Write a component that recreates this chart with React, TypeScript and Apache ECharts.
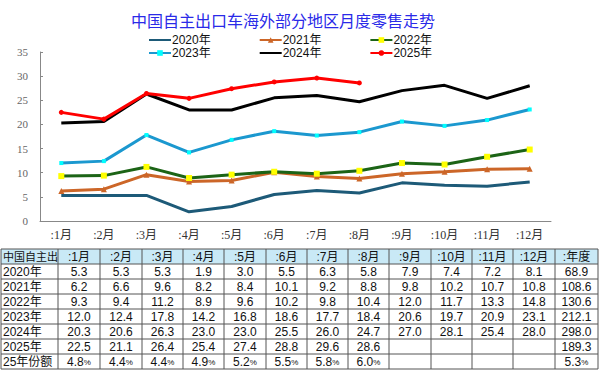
import React, { useEffect, useRef } from "react";
import * as echarts from "echarts";

const months = [":1月", ":2月", ":3月", ":4月", ":5月", ":6月", ":7月", ":8月", ":9月", ":10月", ":11月", ":12月"];
const seriesNames = ["2020年", "2021年", "2022年", "2023年", "2024年", "2025年"];
const v2020 = [5.3, 5.3, 5.3, 1.9, 3.0, 5.5, 6.3, 5.8, 7.9, 7.4, 7.2, 8.1];
const v2021 = [6.2, 6.6, 9.6, 8.2, 8.4, 10.1, 9.2, 8.8, 9.8, 10.2, 10.7, 10.8];
const v2022 = [9.3, 9.4, 11.2, 8.9, 9.6, 10.2, 9.8, 10.4, 12.0, 11.7, 13.3, 14.8];
const v2023 = [12.0, 12.4, 17.8, 14.2, 16.8, 18.6, 17.7, 18.4, 20.6, 19.7, 20.9, 23.1];
const v2024 = [20.3, 20.6, 26.3, 23.0, 23.0, 25.5, 26.0, 24.7, 27.0, 28.1, 25.4, 28.0];
const v2025 = [22.5, 21.1, 26.4, 25.4, 27.4, 28.8, 29.6, 28.6];
const annual = [68.9, 108.6, 130.6, 212.1, 298.0, 189.3];
const share25 = [4.8, 4.4, 4.4, 4.9, 5.2, 5.5, 5.8, 6.0];
const shareAnnual = 5.3;
const tableHeaderFirst = "中国自主出";
const annualHeader = ":年度";
const shareLabel = "25年份额";
const yTicks = { min: 0, max: 35, interval: 5 };

const allValues = [v2020, v2021, v2022, v2023, v2024, v2025];

export default function App() {
  const ref = useRef<HTMLDivElement>(null);
  useEffect(() => {
    if (!ref.current) return;
    const chart = echarts.init(ref.current, null, { renderer: "svg" });

    const colX = [1, 58, 100, 142, 183, 224, 266, 307, 348, 389, 431, 472, 513, 555, 598];
    const rowTop = 249;
    const rowH = 15;
    const nRows = 8;
    const font = "Liberation Sans, Arial, Noto Sans CJK SC, sans-serif";
    const g: any[] = [];
    g.push({
      type: "rect",
      shape: { x: colX[0], y: rowTop, width: colX[colX.length - 1] - colX[0], height: rowH },
      style: { fill: "#c9e9f6" },
    });
    for (let r = 0; r <= nRows; r++) {
      g.push({
        type: "line",
        shape: { x1: colX[0], y1: rowTop + r * rowH, x2: colX[colX.length - 1], y2: rowTop + r * rowH },
        style: { stroke: "#555", lineWidth: 1 },
      });
    }
    for (let c = 0; c < colX.length; c++) {
      g.push({
        type: "line",
        shape: { x1: colX[c], y1: rowTop, x2: colX[c], y2: rowTop + nRows * rowH },
        style: { stroke: "#555", lineWidth: 1 },
      });
    }
    const cellText = (r: number, c: number, text: string, opts: any = {}) => {
      const left = c === 0;
      g.push({
        type: "text",
        x: left ? colX[0] + 2 : (colX[c] + colX[c + 1]) / 2,
        y: rowTop + r * rowH + rowH / 2 + 0.5,
        style: {
          text,
          fill: "#111",
          font: `${opts.size || 12}px ${font}`,
          align: left ? "left" : "center",
          verticalAlign: "middle",
          rich: opts.rich,
        },
      });
    };
    cellText(0, 0, tableHeaderFirst, { size: 11 });
    months.forEach((m, i) => cellText(0, i + 1, m));
    cellText(0, 13, annualHeader);
    seriesNames.forEach((name, si) => {
      cellText(si + 1, 0, name);
      allValues[si].forEach((v, i) => cellText(si + 1, i + 1, v.toFixed(1)));
      cellText(si + 1, 13, annual[si].toFixed(1));
    });
    const rich = {
      a: { fontSize: 12, fontFamily: font, color: "#111" },
      p: { fontSize: 8, fontFamily: font, color: "#111" },
    };
    cellText(7, 0, shareLabel);
    share25.forEach((v, i) => cellText(7, i + 1, `{a|${v.toFixed(1)}}{p|%}`, { rich }));
    cellText(7, 13, `{a|${shareAnnual.toFixed(1)}}{p|%}`, { rich });

    const colors = ["#1d5a78", "#cc6628", "#1c6416", "#1b98cf", "#000000", "#ff0000"];
    const symbols = ["none", "triangle", "rect", "rect", "none", "circle"];
    const symbolSizes = [0, 6, 6, 4, 0, 5];
    const symbolColors = ["#1d5a78", "#cc6628", "#ffff00", "#00ffff", "#000", "#ff0000"];

    const series = seriesNames.map((name, i) => ({
      name,
      type: "line",
      data: allValues[i],
      symbol: symbols[i],
      symbolSize: symbolSizes[i],
      showSymbol: symbols[i] !== "none",
      lineStyle: { color: colors[i], width: 3 },
      itemStyle: { color: symbolColors[i] },
      color: colors[i],
      z: i === 5 ? 10 : 2 + i,
    }));

    const legendData = seriesNames.map((name, i) =>
      symbols[i] === "none" ? { name, itemStyle: { opacity: 0 } } : { name }
    );

    const legendCommon = {
      left: 148,
      itemWidth: 22,
      itemHeight: 7,
      itemGap: 48,
      padding: 0,
      textStyle: { fontSize: 12, color: "#111", fontFamily: font, padding: [0, 0, 0, -4] },
    };

    chart.setOption({
      animation: false,
      backgroundColor: "#fff",
      title: {
        text: "中国自主出口车海外部分地区月度零售走势",
        left: 131,
        top: 12,
        padding: 0,
        textStyle: { fontSize: 16, fontWeight: "normal", color: "#2a2ae8", fontFamily: "Noto Sans CJK SC" },
      },
      legend: [
        { ...legendCommon, top: 34, data: legendData.slice(0, 3) },
        { ...legendCommon, top: 47, data: legendData.slice(3, 6) },
      ],
      grid: { left: 40, right: 49, top: 52, bottom: 150, containLabel: false },
      xAxis: {
        type: "category",
        data: months,
        boundaryGap: true,
        axisLine: { lineStyle: { color: "#888", width: 1 } },
        axisTick: { inside: true, length: 4, lineStyle: { color: "#888" } },
        axisLabel: { color: "#333", fontSize: 12, fontFamily: "Liberation Serif, Noto Sans CJK SC, serif", margin: 8 },
      },
      yAxis: {
        type: "value",
        min: yTicks.min,
        max: yTicks.max,
        interval: yTicks.interval,
        splitLine: { show: false },
        axisLine: { show: true, lineStyle: { color: "#888", width: 1 } },
        axisTick: { show: true, inside: true, length: 3, lineStyle: { color: "#888" } },
        axisLabel: { color: "#666", fontSize: 11, fontFamily: "Liberation Serif, serif", margin: 12 },
      },
      series,
      graphic: g,
    });
    return () => chart.dispose();
  }, []);
  return <div ref={ref} style={{ width: 600, height: 371, position: "absolute", left: 0, top: 0 }} />;
}
